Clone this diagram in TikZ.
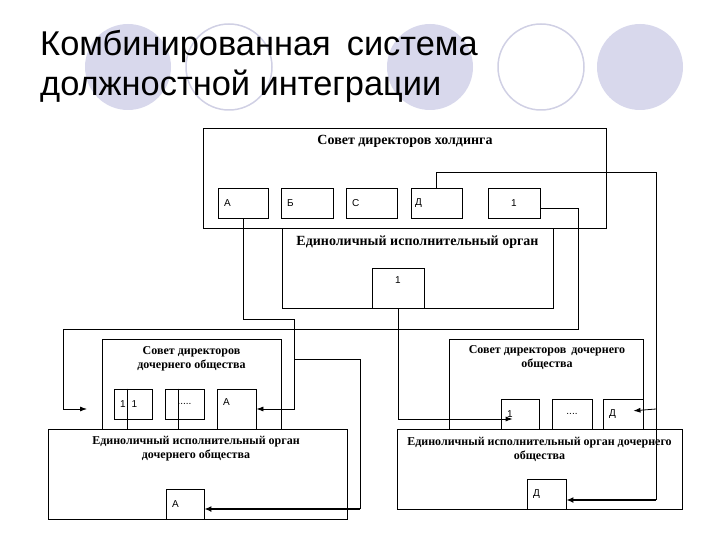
\documentclass[tikz,border=0pt]{standalone}
\usepackage{fontspec}
\setmainfont{Liberation Serif}
\setsansfont{Liberation Sans}
\usepackage{xcolor}
\usetikzlibrary{arrows.meta}
\definecolor{lav}{RGB}{216,216,236}
\definecolor{lavd}{RGB}{208,208,228}
\tikzset{
  blk/.style={draw,line width=0.8pt,inner sep=0pt},
  mem/.style={draw,line width=0.8pt,font=\sffamily\fontsize{10}{12}\selectfont,inner xsep=6pt,inner ysep=0pt,align=left,minimum height=30pt},
  hd/.style={font=\bfseries\fontsize{14}{16}\selectfont,align=center,inner sep=0pt},
  hds/.style={font=\bfseries\fontsize{12}{14}\selectfont,align=center,inner sep=0pt},
  ttl/.style={font=\sffamily\fontsize{34.4}{40}\selectfont,anchor=base west,inner sep=0pt},
  ln/.style={line width=0.8pt},
  ar/.style={line width=0.8pt,-{Latex[length=7pt,width=5pt]}},
  arb/.style={line width=1.8pt,-{Latex[length=7pt,width=6pt]}},
  dot/.style={fill=lav},
  ring/.style={draw=lavd,line width=1.5pt}
}

\begin{document}
\begin{tikzpicture}[x=1pt,y=-1pt]
\useasboundingbox (0,0) rectangle (720,540);
\fill[dot] (128,67) circle (43pt); \draw[ring] (229,67) circle (43pt);
\fill[dot] (430,67) circle (43pt); \draw[ring] (541,67) circle (43pt); \fill[dot] (640,67) circle (43pt);
\node[ttl] (tit1) at (40,56) {Комбинированная\hspace{16pt}система};
\node[ttl] (tit2) at (40,96) {должностной интеграции};

\node[blk,minimum width=403pt,minimum height=100pt] (hold) at (404.5,178) {};
\node[hd] (holdt) at (405,141) {Совет директоров холдинга};
\node[mem,text width=38pt] (hA) at (243,203) {А};
\node[mem,text width=40pt] (hB) at (307,203) {Б};
\node[mem,text width=39pt] (hC) at (371.5,203) {С};
\node[mem,inner xsep=4pt,text width=43pt] (hD) at (436.5,203) {Д};
\node[mem,text width=40pt,align=center] (h1) at (514,203) {1};

\node[blk,minimum width=271pt,minimum height=80pt] (hex) at (417.5,268) {};
\node[hd] (hext) at (417.5,242) {Единоличный исполнительный орган};
\node[mem,text width=40pt,align=center,minimum height=40pt,text depth=16pt] (hex1) at (398,288) {1};

\node[blk,minimum width=179pt,minimum height=90pt] (lbd) at (191.5,384) {};
\node[hds] (lbdt) at (191.5,359) {Совет директоров\\дочернего общества};
\node[mem,text width=26pt] (b11) at (133,404) {1\hspace{6pt}1};
\node[mem,text width=27pt,align=center] (bdots) at (184.5,404) {.....};
\node[mem,text width=27pt,minimum height=40pt,text depth=14pt] (bA) at (236.5,409) {А};

\node[blk,minimum width=299pt,minimum height=90pt] (lex) at (197.5,474) {};
\node[hds] (lext) at (196,449) {Единоличный исполнительный орган\\дочернего общества};
\node[mem,text width=26pt] (exA) at (185,504) {А};

\node[blk,minimum width=194pt,minimum height=90pt] (rbd) at (546,384) {};
\node[hds] (rbdt) at (547,357.5) {Совет директоров\hspace{5pt}дочернего\\общества};
\node[mem,text width=26pt] (r1) at (520,414) {1};
\node[mem,text width=28pt,align=center] (rdots) at (572,414) {....};
\node[mem,text width=28pt] (rD) at (623,414) {Д};

\node[blk,minimum width=285pt,minimum height=80pt] (rex) at (539.5,469) {};
\node[hds] (rext) at (539.5,449) {Единоличный исполнительный орган дочернего\\общества};
\node[mem,text width=27pt] (rexD) at (546.5,494) {Д};

\coordinate (jA) at (294,359); \coordinate (jAe) at (360,509);
\coordinate (j1) at (63,409); \coordinate (j1e) at (87,409);
\coordinate (jD) at (656,409); \coordinate (jDe) at (656,500);
\draw[ar] (hA.south) |- (294,319) |- (bA.east);
\draw[ln] (jA) -| (jAe); \draw[arb] (jAe) -- ([yshift=-5pt]exA.east);
\draw[ln] ([yshift=-5pt]h1.east) -| (578,329) -| (j1); \draw[ar] (j1) -- (j1e);
\draw[ln] (hD.north) |- (656,172) -- (jDe); \draw[arb] (jDe) -- ([yshift=-6pt]rexD.east);
\draw[ar,shorten >=-10pt] (jD) -- ([yshift=4pt]rD.east);
\draw[ar,shorten >=-12pt] (hex1.south) |- ([yshift=-5pt]r1.west);
\draw[ln] ([xshift=-6pt]b11.north) -- ([xshift=-6pt]b11.north |- lex.north);
\draw[ln] ([xshift=-6.5pt]bdots.north) -- ([xshift=-6.5pt]bdots.north |- lex.north);
\end{tikzpicture}
\end{document}
